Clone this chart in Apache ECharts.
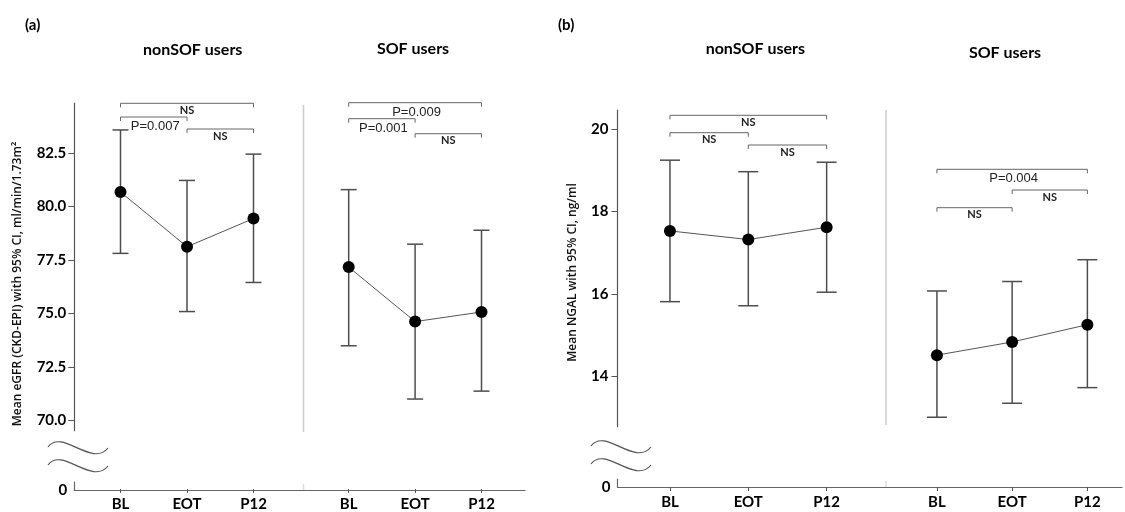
<!DOCTYPE html>
<html><head><meta charset="utf-8">
<script src="https://cdn.jsdelivr.net/npm/echarts@6/dist/echarts.min.js"></script>
<style>html,body{margin:0;padding:0;background:#fff}#c{width:1125px;height:512px}</style>
</head><body><div id="c"></div>
<script>
// ---------- DATA ----------
const timepoints = ['BL', 'EOT', 'P12'];
const groupTitles = ['nonSOF users', 'SOF users'];
const panelLetters = ['(a)', '(b)'];
const egfrName = 'Mean eGFR (CKD-EPI) with 95% CI, ml/min/1.73m\u00B2';
const ngalName = 'Mean NGAL with 95% CI, ng/ml';

const egfrNonSofMean = [80.68, 78.12, 79.44];
const egfrNonSofLow  = [77.81, 75.09, 76.45];
const egfrNonSofHigh = [83.58, 81.22, 82.45];
const egfrSofMean = [77.17, 74.62, 75.07];
const egfrSofLow  = [73.49, 71.00, 71.37];
const egfrSofHigh = [80.79, 78.24, 78.89];

const ngalNonSofMean = [17.53, 17.32, 17.62];
const ngalNonSofLow  = [15.81, 15.71, 16.04];
const ngalNonSofHigh = [19.25, 18.97, 19.20];
const ngalSofMean = [14.51, 14.83, 15.25];
const ngalSofLow  = [13.00, 13.34, 13.72];
const ngalSofHigh = [16.07, 16.30, 16.83];

const egfrTicks = [70, 72.5, 75, 77.5, 80, 82.5];
const ngalTicks = [14, 16, 18, 20];
const zeroTick = [0];

const egfrNonSofTests = [['BL', 'P12', 'NS'], ['BL', 'EOT', 'P=0.007'], ['EOT', 'P12', 'NS']];
const egfrSofTests    = [['BL', 'P12', 'P=0.009'], ['BL', 'EOT', 'P=0.001'], ['EOT', 'P12', 'NS']];
const ngalNonSofTests = [['BL', 'P12', 'NS'], ['BL', 'EOT', 'NS'], ['EOT', 'P12', 'NS']];
const ngalSofTests    = [['BL', 'P12', 'P=0.004'], ['EOT', 'P12', 'NS'], ['BL', 'EOT', 'NS']];

// ---------- LAYOUT ----------
const LAY = {
  a: { axisX: 74.3, top: 103, bottom: 431.7, min: 69.52, max: 84.84, base: 490, frameRight: 525,
       grids: [{ left: 87.25, width: 199.5 }, { left: 315.5, width: 199.2 }], cap: 8,
       sepX: 303.5, sepY: [105, 432], labMargin: 8,
       brackets: [[103.3, 117, 129], [102.7, 118.7, 133.7]],
       wave: { x0: 48, x1: 108, y: 447 } },
  b: { axisX: 617.5, top: 110, bottom: 426.7, min: 12.77, max: 20.47, base: 487, frameRight: 1122,
       grids: [{ left: 630.8, width: 235 }, { left: 899.3, width: 235.5 }], cap: 10,
       sepX: 886, sepY: [110, 425], labMargin: 9,
       brackets: [[115.3, 132.7, 145], [169.3, 190, 207.7]],
       wave: { x0: 591, x1: 651, y: 446 } }
};
const BOLD = 'Lato, "Open Sans", sans-serif';
const AXC = '#555';

function errRender(cap) {
  return function (params, api) {
    const x = api.value(0);
    const lo = api.coord([x, api.value(1)]);
    const hi = api.coord([x, api.value(2)]);
    const st = { stroke: '#4d4d4d', lineWidth: 1.5 };
    return { type: 'group', children: [
      { type: 'line', shape: { x1: lo[0], y1: lo[1], x2: hi[0], y2: hi[1] }, style: st },
      { type: 'line', shape: { x1: lo[0] - cap, y1: lo[1], x2: lo[0] + cap, y2: lo[1] }, style: st },
      { type: 'line', shape: { x1: hi[0] - cap, y1: hi[1], x2: hi[0] + cap, y2: hi[1] }, style: st }
    ]};
  };
}
function bracketRender(levels, tests) {
  return function (params, api) {
    const i = params.dataIndex;
    const x1 = api.coord([api.value(0), 0])[0];
    const x2 = api.coord([api.value(1), 0])[0];
    const y = levels[i];
    const txt = tests[i][2];
    const isP = txt !== 'NS';
    return { type: 'group', children: [
      { type: 'polyline', shape: { points: [[x1, y + 4], [x1, y], [x2, y], [x2, y + 4]] },
        style: { stroke: '#666', lineWidth: 1, fill: null } },
      { type: 'text', style: { text: txt, x: (x1 + x2) / 2 + (isP ? 1.5 : 0), y: y + (isP ? 9.5 : 7),
        align: 'center', verticalAlign: 'middle', fill: '#222',
        font: isP ? 'normal 13px "Liberation Sans", Arial, sans-serif' : 'bold 11px ' + BOLD } }
    ]};
  };
}

const grid = [], xAxis = [], yAxis = [], series = [], graphic = [];

function buildPanel(key, groups, ticks, fmt, name, nameX, nameY, letterX) {
  const P = LAY[key];
  groups.forEach((g, gi) => {
    const idx = grid.length;
    grid.push({ left: P.grids[gi].left, width: P.grids[gi].width, top: P.top, height: P.bottom - P.top });
    xAxis.push({ type: 'category', gridIndex: idx, data: timepoints, offset: P.base - P.bottom,
      axisLine: { show: false }, splitLine: { show: false },
      axisTick: { show: true, alignWithLabel: true, length: 4, lineStyle: { color: AXC } },
      axisLabel: { color: '#000', fontFamily: BOLD, fontWeight: 'bold', fontSize: 15, margin: 8 } });
    yAxis.push({ type: 'value', gridIndex: idx, min: P.min, max: P.max, show: gi === 0,
      offset: P.grids[0].left - P.axisX, splitLine: { show: false },
      axisLine: { show: true, lineStyle: { color: AXC, width: 1.2 } },
      axisTick: { show: true, length: 6, customValues: ticks, lineStyle: { color: AXC } },
      axisLabel: { customValues: ticks, formatter: fmt, color: '#000', fontFamily: BOLD,
        fontWeight: 'bold', fontSize: 15, margin: P.labMargin } });
    series.push({ type: 'custom', xAxisIndex: idx, yAxisIndex: idx, z: 2,
      renderItem: errRender(P.cap), encode: { x: 0, y: [1, 2] },
      data: timepoints.map((t, i) => [i, g.low[i], g.high[i]]) });
    series.push({ type: 'line', xAxisIndex: idx, yAxisIndex: idx, z: 3, data: g.mean,
      symbol: 'circle', symbolSize: 12, itemStyle: { color: '#000' },
      lineStyle: { color: '#555', width: 1 }, animation: false });
    series.push({ type: 'custom', xAxisIndex: idx, yAxisIndex: idx, z: 4,
      renderItem: bracketRender(P.brackets[gi], g.tests), encode: { x: [0, 1] },
      data: g.tests.map(t => [timepoints.indexOf(t[0]), timepoints.indexOf(t[1])]) });
    graphic.push({ type: 'text', style: { text: groupTitles[gi], x: g.titleX, y: g.titleY,
      align: 'center', verticalAlign: 'middle', fill: '#000', font: 'bold 16px ' + BOLD } });
  });
  // frame grid: baseline with "0"
  const f = grid.length;
  grid.push({ left: P.axisX, width: P.frameRight - P.axisX, top: P.base - 8, height: 8 });
  xAxis.push({ type: 'value', gridIndex: f, min: 0, max: 1, axisLine: { show: true, lineStyle: { color: '#666', width: 1.2 } },
    axisTick: { show: false }, axisLabel: { show: false }, splitLine: { show: false } });
  yAxis.push({ type: 'value', gridIndex: f, min: 0, max: 1, axisLine: { show: true, lineStyle: { color: '#666', width: 1.2 } },
    axisTick: { show: false }, splitLine: { show: false },
    axisLabel: { customValues: zeroTick, color: '#000', fontFamily: BOLD, fontWeight: 'bold', fontSize: 15, margin: 7 } });
  // separator
  graphic.push({ type: 'line', shape: { x1: P.sepX, y1: P.sepY[0], x2: P.sepX, y2: P.sepY[1] },
    style: { stroke: '#ccc', lineWidth: 1.5 } });
  graphic.push({ type: 'line', shape: { x1: P.sepX, y1: P.base - 6, x2: P.sepX, y2: P.base },
    style: { stroke: '#ddd', lineWidth: 1.5 } });
  // break waves
  [0, 18].forEach(dy => {
    const w = P.wave;
    graphic.push({ type: 'bezierCurve', shape: { x1: w.x0, y1: w.y + dy, x2: w.x1, y2: w.y + 1 + dy,
      cpx1: w.x0 + 14, cpy1: w.y - 19 + dy, cpx2: w.x1 - 16, cpy2: w.y + 21 + dy },
      style: { stroke: '#555', lineWidth: 1.2, fill: null } });
  });
  graphic.push({ type: 'text', rotation: Math.PI / 2, x: nameX, y: nameY,
    style: { text: name, align: 'center', verticalAlign: 'middle', fill: '#111',
      font: '600 12px "Open Sans", sans-serif' } });
  graphic.push({ type: 'text', style: { text: panelLetters[key === 'a' ? 0 : 1], x: letterX, y: 25,
    align: 'left', verticalAlign: 'middle', fill: '#000', font: 'bold 15px ' + BOLD } });
}

buildPanel('a', [
  { mean: egfrNonSofMean, low: egfrNonSofLow, high: egfrNonSofHigh, tests: egfrNonSofTests, titleX: 192.7, titleY: 50 },
  { mean: egfrSofMean, low: egfrSofLow, high: egfrSofHigh, tests: egfrSofTests, titleX: 413, titleY: 49 }
], egfrTicks, v => v.toFixed(1), egfrName, 18, 284, 25);

buildPanel('b', [
  { mean: ngalNonSofMean, low: ngalNonSofLow, high: ngalNonSofHigh, tests: ngalNonSofTests, titleX: 755.3, titleY: 49 },
  { mean: ngalSofMean, low: ngalSofLow, high: ngalSofHigh, tests: ngalSofTests, titleX: 1005, titleY: 53 }
], ngalTicks, v => String(v), ngalName, 572.3, 272.5, 558);

const chart = echarts.init(document.getElementById('c'), null, { renderer: 'canvas' });
chart.setOption({ animation: false, backgroundColor: '#fff', grid, xAxis, yAxis, series, graphic });
</script>
</body></html>
